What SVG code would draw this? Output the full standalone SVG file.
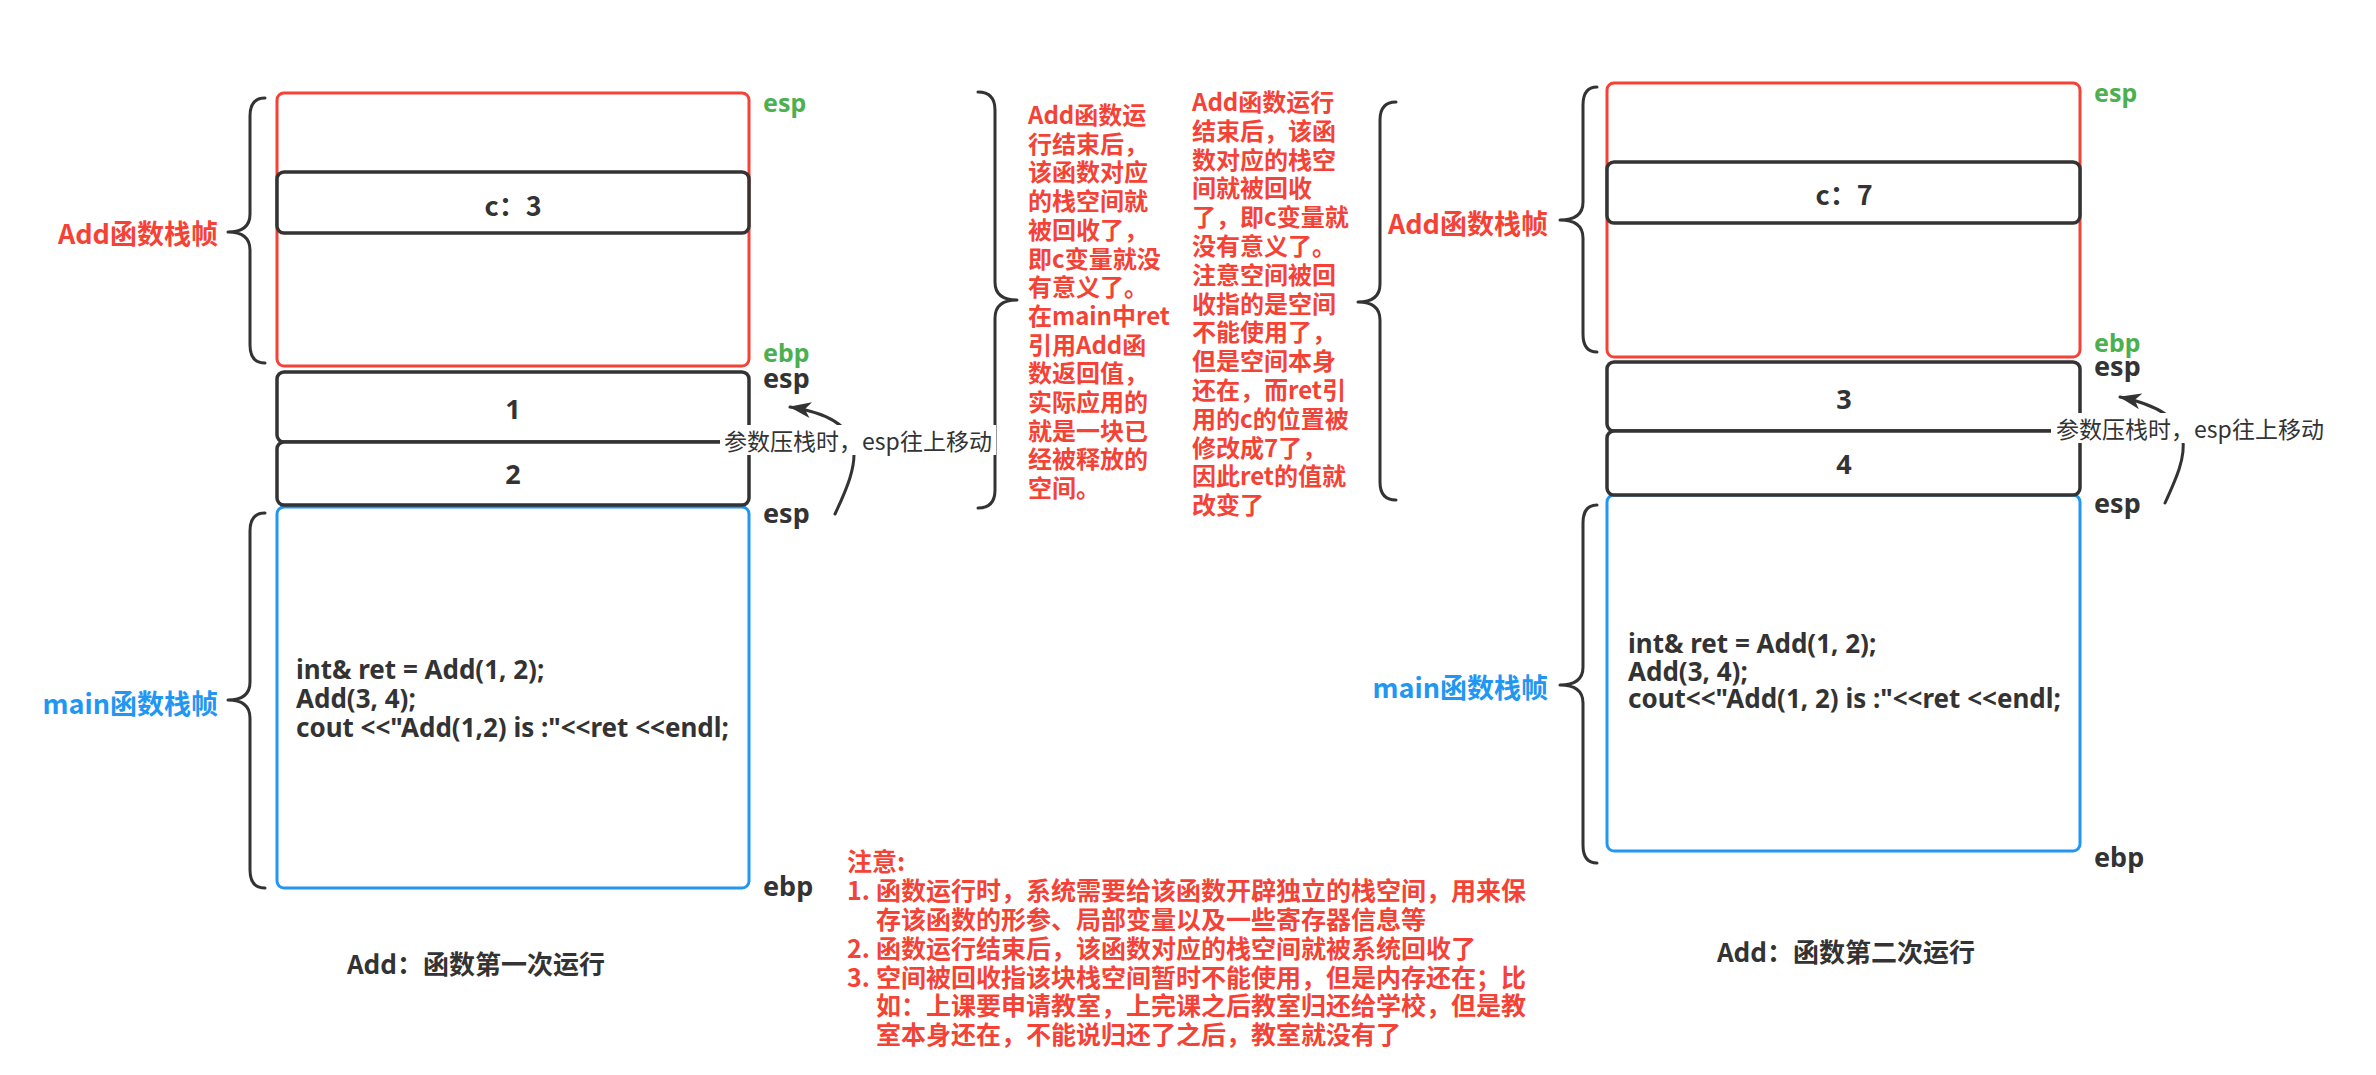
<svg xmlns="http://www.w3.org/2000/svg" width="2376" height="1075" viewBox="0 0 2376 1075">
<style>
.bg{fill:#ffffff}
.brace{fill:none;stroke:#333333;stroke-width:3;stroke-linecap:round;stroke-linejoin:round}
.redframe{fill:#ffffff;stroke:#F44336;stroke-width:3}
.blueframe{fill:#ffffff;stroke:#2196F3;stroke-width:3}
.cell{fill:#ffffff;stroke:#333333;stroke-width:3.5}
.cjk{font-family:"Noto Sans CJK SC","Noto Sans",sans-serif}
.lat{font-family:"Noto Sans","Noto Sans CJK SC",sans-serif}
.redlbl{fill:#F44336;font-weight:bold;font-size:27px}
.bluelbl{fill:#2196F3;font-weight:bold;font-size:27px}
.val{fill:#333333;font-size:27px;font-weight:bold}
.green{fill:#4CAF50;font-weight:bold;font-size:25px}
.dark{fill:#333333;font-size:27px;font-weight:bold}
.code{fill:#333333;font-size:26px;font-weight:bold}
.note{fill:#F44336;font-weight:bold;font-size:24px}
.title{fill:#333333;font-weight:bold;font-size:26px}
.arrlbl{fill:#333333;font-size:23px}
.conn{fill:none;stroke:#333333;stroke-width:3;stroke-linecap:round}
</style>
<defs>
<marker id="ah" markerUnits="userSpaceOnUse" markerWidth="22" markerHeight="16" viewBox="0 0 22 16" refX="21" refY="8" orient="auto">
<path d="M0,0 L22,8 L0,16 L6,8 Z" fill="#333333"/>
</marker>
</defs>
<rect class="bg" x="0" y="0" width="2376" height="1075"/>

<!-- Left diagram -->
<g id="left-add-brace"><path class="brace" d="M265,98 Q250,98 250,116 L250,214 Q250,232 228,232 Q250,232 250,250 L250,345 Q250,363 265,363"/></g>
<g id="left-add-label"><text class="cjk redlbl" x="218" y="232" text-anchor="end" dominant-baseline="central">Add函数栈帧</text></g>
<g id="left-add-frame"><rect class="redframe" x="277" y="93" width="472" height="273" rx="7"/></g>
<g id="left-c"><rect class="cell" x="277" y="172" width="472" height="61" rx="7"/><text class="cjk val" x="513" y="204" text-anchor="middle" dominant-baseline="central">c：3</text></g>
<g id="left-main-frame"><rect class="blueframe" x="277" y="507" width="472" height="381" rx="7"/></g>
<g id="left-p1"><rect class="cell" x="277" y="372" width="472" height="70" rx="7"/><text class="lat val" x="513" y="408" text-anchor="middle" dominant-baseline="central">1</text></g>
<g id="left-p2"><rect class="cell" x="277" y="442" width="472" height="63" rx="7"/><text class="lat val" x="513" y="473" text-anchor="middle" dominant-baseline="central">2</text></g>
<g id="left-main-brace"><path class="brace" d="M265,513 Q250,513 250,531 L250,682 Q250,700 228,700 Q250,700 250,718 L250,870 Q250,888 265,888"/></g>
<g id="left-main-label"><text class="cjk bluelbl" x="218" y="702" text-anchor="end" dominant-baseline="central">main函数栈帧</text></g>
<g id="left-code"><text class="lat code" dominant-baseline="central"><tspan x="296" y="669">int&amp; ret = Add(1, 2);</tspan><tspan x="296" y="698">Add(3, 4);</tspan><tspan x="296" y="727">cout &lt;&lt;"Add(1,2) is :"&lt;&lt;ret &lt;&lt;endl;</tspan></text></g>
<g id="left-regs">
<text class="lat green" x="763" y="102" dominant-baseline="central">esp</text>
<text class="lat green" x="763" y="352" dominant-baseline="central">ebp</text>
<text class="lat dark" x="763" y="377" dominant-baseline="central">esp</text>
<text class="lat dark" x="763" y="512" dominant-baseline="central">esp</text>
<text class="lat dark" x="763" y="885" dominant-baseline="central">ebp</text>
</g>
<g id="left-title"><text class="cjk title" x="476" y="962" text-anchor="middle" dominant-baseline="central">Add：函数第一次运行</text></g>

<!-- Middle -->
<g id="mid-brace1"><path class="brace" d="M978,92 Q995,92 995,110 L995,282 Q995,300 1017,300 Q995,300 995,318 L995,490 Q995,508 978,508"/></g>
<g id="mid-text1"><text class="cjk note" dominant-baseline="central">
<tspan x="1028" y="113">Add函数运</tspan>
<tspan x="1028" y="141.7">行结束后，</tspan>
<tspan x="1028" y="170.4">该函数对应</tspan>
<tspan x="1028" y="199.1">的栈空间就</tspan>
<tspan x="1028" y="227.8">被回收了，</tspan>
<tspan x="1028" y="256.5">即c变量就没</tspan>
<tspan x="1028" y="285.2">有意义了。</tspan>
<tspan x="1028" y="313.9">在main中ret</tspan>
<tspan x="1028" y="342.6">引用Add函</tspan>
<tspan x="1028" y="371.3">数返回值，</tspan>
<tspan x="1028" y="400">实际应用的</tspan>
<tspan x="1028" y="428.7">就是一块已</tspan>
<tspan x="1028" y="457.4">经被释放的</tspan>
<tspan x="1028" y="486.1">空间。</tspan>
</text></g>
<g id="mid-text2"><text class="cjk note" dominant-baseline="central">
<tspan x="1192" y="100">Add函数运行</tspan>
<tspan x="1192" y="128.8">结束后，该函</tspan>
<tspan x="1192" y="157.6">数对应的栈空</tspan>
<tspan x="1192" y="186.4">间就被回收</tspan>
<tspan x="1192" y="215.2">了，即c变量就</tspan>
<tspan x="1192" y="244">没有意义了。</tspan>
<tspan x="1192" y="272.8">注意空间被回</tspan>
<tspan x="1192" y="301.6">收指的是空间</tspan>
<tspan x="1192" y="330.4">不能使用了，</tspan>
<tspan x="1192" y="359.2">但是空间本身</tspan>
<tspan x="1192" y="388">还在，而ret引</tspan>
<tspan x="1192" y="416.8">用的c的位置被</tspan>
<tspan x="1192" y="445.6">修改成7了，</tspan>
<tspan x="1192" y="474.4">因此ret的值就</tspan>
<tspan x="1192" y="503.2">改变了</tspan>
</text></g>
<g id="mid-brace2"><path class="brace" d="M1396,102 Q1380,102 1380,120 L1380,284 Q1380,302 1358,302 Q1380,302 1380,320 L1380,482 Q1380,500 1396,500"/></g>

<!-- Right diagram -->
<g id="right-add-label"><text class="cjk redlbl" x="1548" y="222" text-anchor="end" dominant-baseline="central">Add函数栈帧</text></g>
<g id="right-add-brace"><path class="brace" d="M1597,87 Q1583,87 1583,105 L1583,202 Q1583,220 1560,220 Q1583,220 1583,238 L1583,334 Q1583,352 1597,352"/></g>
<g id="right-add-frame"><rect class="redframe" x="1607" y="83" width="473" height="274" rx="7"/></g>
<g id="right-c"><rect class="cell" x="1607" y="162" width="473" height="61" rx="7"/><text class="cjk val" x="1844" y="193" text-anchor="middle" dominant-baseline="central">c：7</text></g>
<g id="right-main-frame"><rect class="blueframe" x="1607" y="495" width="473" height="356" rx="7"/></g>
<g id="right-p3"><rect class="cell" x="1607" y="362" width="473" height="69" rx="7"/><text class="lat val" x="1844" y="398" text-anchor="middle" dominant-baseline="central">3</text></g>
<g id="right-p4"><rect class="cell" x="1607" y="431" width="473" height="64" rx="7"/><text class="lat val" x="1844" y="463" text-anchor="middle" dominant-baseline="central">4</text></g>
<g id="right-main-brace"><path class="brace" d="M1597,505 Q1583,505 1583,523 L1583,667 Q1583,685 1560,685 Q1583,685 1583,703 L1583,845 Q1583,863 1597,863"/></g>
<g id="right-main-label"><text class="cjk bluelbl" x="1548" y="686" text-anchor="end" dominant-baseline="central">main函数栈帧</text></g>
<g id="right-code"><text class="lat code" dominant-baseline="central"><tspan x="1628" y="643">int&amp; ret = Add(1, 2);</tspan><tspan x="1628" y="671">Add(3, 4);</tspan><tspan x="1628" y="698">cout&lt;&lt;"Add(1, 2) is :"&lt;&lt;ret &lt;&lt;endl;</tspan></text></g>
<g id="right-regs">
<text class="lat green" x="2094" y="92" dominant-baseline="central">esp</text>
<text class="lat green" x="2094" y="342" dominant-baseline="central">ebp</text>
<text class="lat dark" x="2094" y="365" dominant-baseline="central">esp</text>
<text class="lat dark" x="2094" y="502" dominant-baseline="central">esp</text>
<text class="lat dark" x="2094" y="856" dominant-baseline="central">ebp</text>
</g>
<g id="right-title"><text class="cjk title" x="1846" y="950" text-anchor="middle" dominant-baseline="central">Add：函数第二次运行</text></g>

<!-- Notes -->
<g id="notes"><text class="cjk note" style="font-size:25px" dominant-baseline="central">
<tspan x="847" y="860">注意:</tspan>
<tspan x="847" y="889">1.</tspan><tspan x="876" y="889">函数运行时，系统需要给该函数开辟独立的栈空间，用来保</tspan>
<tspan x="876" y="918">存该函数的形参、局部变量以及一些寄存器信息等</tspan>
<tspan x="847" y="947">2.</tspan><tspan x="876" y="947">函数运行结束后，该函数对应的栈空间就被系统回收了</tspan>
<tspan x="847" y="976">3.</tspan><tspan x="876" y="976">空间被回收指该块栈空间暂时不能使用，但是内存还在；比</tspan>
<tspan x="876" y="1004">如：上课要申请教室，上完课之后教室归还给学校，但是教</tspan>
<tspan x="876" y="1033">室本身还在，不能说归还了之后，教室就没有了</tspan>
</text></g>

<!-- Connectors -->
<g id="connectors">
<path class="conn" d="M835,514 C858,465 876,420 790,407" marker-end="url(#ah)"/>
<path class="conn" d="M2165,503 C2187,455 2205,415 2120,397" marker-end="url(#ah)"/>
</g>
<g id="conn-label-left"><rect x="720" y="425" width="276" height="30" fill="#ffffff"/><text class="cjk arrlbl" x="858" y="440" text-anchor="middle" dominant-baseline="central">参数压栈时，esp往上移动</text></g>
<g id="conn-label-right"><rect x="2051" y="413" width="278" height="30" fill="#ffffff"/><text class="cjk arrlbl" x="2190" y="428" text-anchor="middle" dominant-baseline="central">参数压栈时，esp往上移动</text></g>
</svg>
